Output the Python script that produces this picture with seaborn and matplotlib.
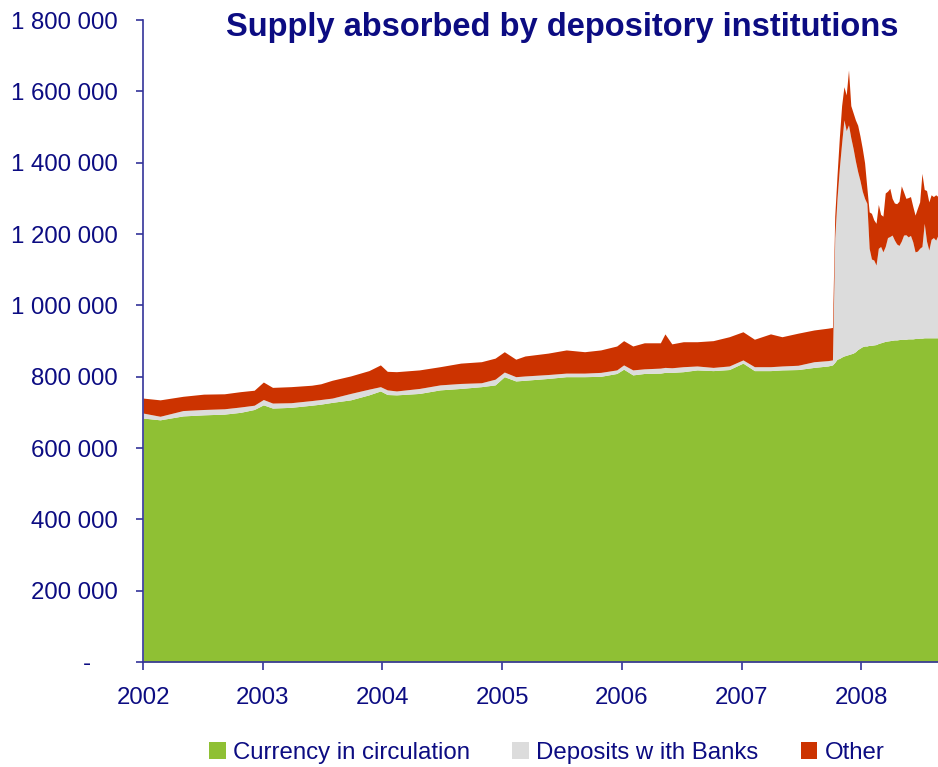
import numpy as np
import pandas as pd
import matplotlib
matplotlib.use("Agg")
import matplotlib.pyplot as plt
import matplotlib.dates as mdates
import matplotlib.ticker as mticker
import seaborn as sns

# weekly/monthly readings (values in the chart's units)
dates = [
    "2002-01-01", "2002-02-22", "2002-05-03", "2002-07-05", "2002-09-06", "2002-10-25",
    "2002-12-06", "2003-01-03", "2003-01-31", "2003-03-28", "2003-05-30", "2003-06-27",
    "2003-08-01", "2003-09-26", "2003-11-21", "2003-12-26", "2004-01-16", "2004-02-13",
    "2004-04-23", "2004-06-25", "2004-08-27", "2004-10-29", "2004-12-10", "2005-01-07",
    "2005-02-11", "2005-03-11", "2005-05-20", "2005-07-15", "2005-09-09", "2005-10-28",
    "2005-12-16", "2006-01-06", "2006-02-03", "2006-03-10", "2006-04-28", "2006-05-12",
    "2006-06-02", "2006-07-07", "2006-08-18", "2006-10-06", "2006-11-24", "2007-01-05",
    "2007-02-09", "2007-03-30", "2007-05-04", "2007-06-22", "2007-08-10", "2007-09-21",
    "2007-10-05", "2007-10-12", "2007-10-19", "2007-10-26", "2007-11-02", "2007-11-09",
    "2007-11-16", "2007-11-23", "2007-11-30", "2007-12-07", "2007-12-14", "2007-12-21",
    "2007-12-28", "2008-01-04", "2008-01-11", "2008-01-18", "2008-01-25", "2008-02-01",
    "2008-02-08", "2008-02-15", "2008-02-22", "2008-02-29", "2008-03-07", "2008-03-14",
    "2008-03-21", "2008-03-28", "2008-04-04", "2008-04-11", "2008-04-18", "2008-04-25",
    "2008-05-02", "2008-05-09", "2008-05-16", "2008-05-23", "2008-05-30", "2008-06-06",
    "2008-06-13", "2008-06-20", "2008-06-27", "2008-07-04", "2008-07-11", "2008-07-18",
    "2008-07-25", "2008-08-01", "2008-08-08", "2008-08-15", "2008-08-22",
]

currency = [
    684000, 679000, 690000, 693000, 695000, 700000, 708000, 721000, 712000, 714000,
    720000, 723000, 728000, 735000, 749000, 760000, 750000, 749000, 753000, 763000,
    767000, 772000, 777000, 800000, 788000, 790000, 795000, 800000, 800000, 801000,
    809000, 821000, 805000, 809000, 810000, 812000, 812000, 814000, 819000, 817000,
    820000, 838000, 817000, 817000, 819000, 820000, 826000, 830000, 833000, 840000,
    849000, 851000, 855000, 858000, 860000, 862000, 864000, 866000, 870000, 876000,
    880000, 884000, 886000, 886000, 888000, 888000, 889000, 890000, 893000, 895000,
    897000, 899000, 900000, 901000, 902000, 903000, 903000, 904000, 905000, 905000,
    905000, 906000, 906000, 906000, 907000, 907000, 908000, 908000, 909000, 909000,
    909000, 909000, 909000, 909000, 909000,
]

deposits = [
    14000, 10000, 15000, 15000, 15000, 15000, 12000, 15000, 14000, 13000,
    13000, 13000, 12000, 18000, 16000, 12000, 13000, 11000, 14000, 14000,
    14000, 11000, 16000, 13000, 12000, 12000, 11000, 10000, 10000, 11000,
    10000, 12000, 14000, 13000, 14000, 14000, 13000, 14000, 11000, 9000,
    10000, 9000, 11000, 11000, 11000, 12000, 16000, 15000, 14000, 350000,
    451000, 534000, 600000, 662000, 630000, 644000, 606000, 574000, 535000, 499000,
    470000, 436000, 414000, 400000, 272000, 242000, 238000, 223000, 267000, 270000,
    253000, 266000, 290000, 292000, 295000, 280000, 269000, 264000, 275000, 292000,
    293000, 286000, 290000, 272000, 243000, 245000, 252000, 257000, 321000, 271000,
    246000, 276000, 281000, 274000, 288000,
]

other = [
    42000, 46000, 40000, 43000, 42000, 43000, 42000, 49000, 44000, 45000,
    43000, 44000, 50000, 49000, 52000, 61000, 52000, 54000, 52000, 51000,
    57000, 59000, 59000, 57000, 49000, 56000, 60000, 65000, 60000, 63000,
    67000, 68000, 67000, 73000, 71000, 94000, 67000, 70000, 68000, 75000,
    82000, 79000, 77000, 92000, 82000, 90000, 89000, 91000, 91000, 60000,
    65000, 85000, 105000, 93000, 100000, 154000, 90000, 100000, 115000, 130000,
    125000, 120000, 100000, 44000, 102000, 128000, 113000, 117000, 123000, 90000,
    100000, 150000, 130000, 135000, 103000, 104000, 113000, 124000, 155000, 121000,
    102000, 110000, 109000, 100000, 103000, 120000, 130000, 205000, 95000, 142000,
    135000, 125000, 115000, 127000, 108000,
]

labels = ["Currency in circulation", "Deposits w ith Banks", "Other"]
colors = ["#8FC034", "#DCDCDC", "#CC3300"]
navy = "#0C0C82"

df = pd.DataFrame({"date": pd.to_datetime(dates), "currency": currency,
                   "deposits": deposits, "other": other})

sns.set_theme(style="white")
plt.rcParams["font.family"] = ["Liberation Sans", "DejaVu Sans"]

fig = plt.figure(figsize=(9.38, 7.67), dpi=100)
ax = fig.add_axes([0.1525, 0.1369, 0.8475, 0.837])

ax.stackplot(df["date"], df["currency"], df["deposits"], df["other"],
             colors=colors, labels=labels, linewidth=0)

ax.set_xlim(df["date"].iloc[0], df["date"].iloc[-1])
ax.set_ylim(0, 1800000)
ax.yaxis.set_major_locator(mticker.MultipleLocator(200000))
# accounting-style format: zero shown as a dash set in from the right
ax.yaxis.set_major_formatter(mticker.FuncFormatter(
    lambda v, p: "-    " if v == 0 else f"{int(v):,}".replace(",", " ")))
ax.xaxis.set_major_locator(mdates.YearLocator())
ax.xaxis.set_major_formatter(mdates.DateFormatter("%Y"))

sns.despine(ax=ax)
for s in ["left", "bottom"]:
    ax.spines[s].set_color("#333399")
    ax.spines[s].set_linewidth(1.2)
ax.tick_params(axis="y", which="major", left=True, length=5, width=1.2,
               color="#333399", pad=13, labelsize=17.3, labelcolor=navy)
ax.tick_params(axis="x", which="major", bottom=True, length=6, width=1.2,
               color="#333399", pad=12, labelsize=17.3, labelcolor=navy)
ax.grid(False)

fig.text(0.599, 0.964, "Supply absorbed by depository institutions",
         ha="center", va="center", fontsize=23.5, fontweight="bold", color=navy)

fig.legend(loc="center", bbox_to_anchor=(0.583, 0.018), ncol=3, frameon=False,
           fontsize=17.3, labelcolor=navy, handlelength=0.7, handleheight=0.7,
           handletextpad=0.3, columnspacing=1.75, borderpad=0)

fig.savefig("out.png", dpi=100)
